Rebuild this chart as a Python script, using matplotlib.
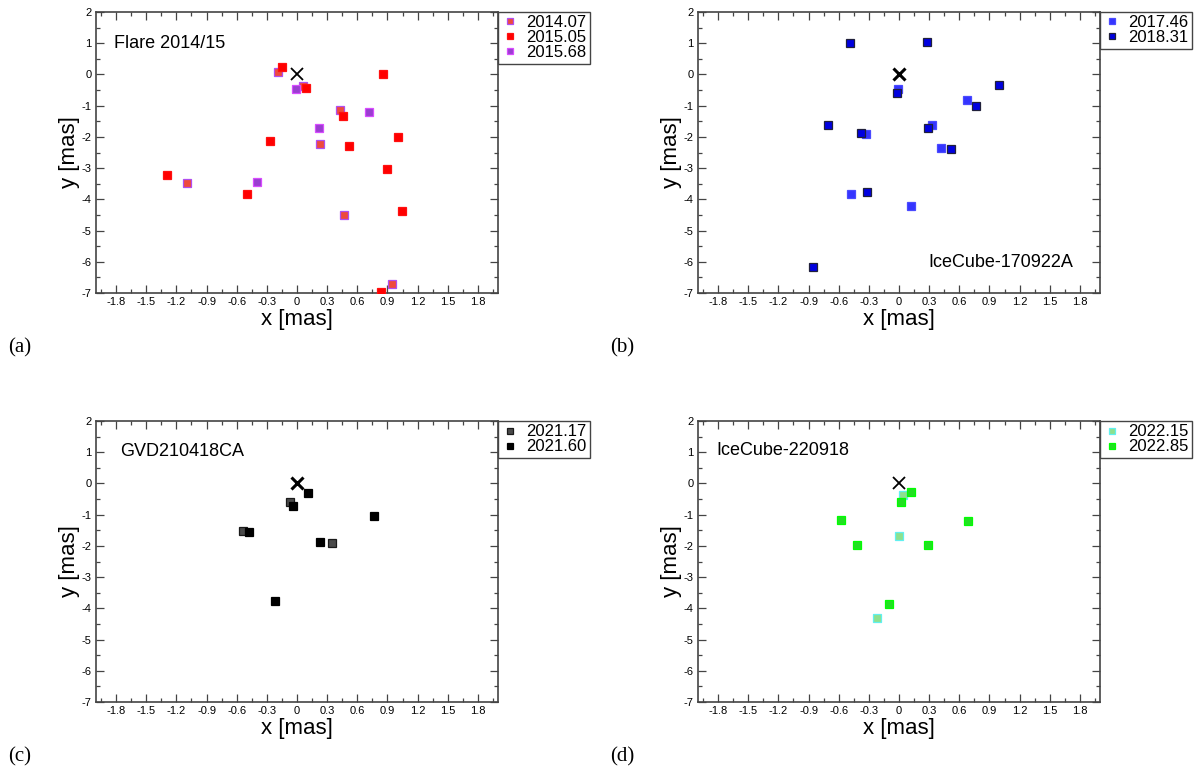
import matplotlib
matplotlib.use("Agg")
import matplotlib.pyplot as plt
from matplotlib.ticker import MultipleLocator, FuncFormatter

plt.rcParams['font.family'] = ['Liberation Sans', 'DejaVu Sans']

# ---------------- data (mas) ----------------
# Panel (a) Flare 2014/15
x_201407 = [-0.19, 0.06, 0.43, 0.23, -1.09, 0.47, 0.95]
y_201407 = [0.09, -0.37, -1.13, -2.22, -3.47, -4.51, -6.70]
x_201505 = [-0.15, 0.09, 0.855, 0.457, -0.265, 1.0, 0.517, 0.895, -1.296, -0.497, 1.047, 0.838]
y_201505 = [0.23, -0.43, 0.03, -1.34, -2.14, -2.0, -2.30, -3.04, -3.23, -3.82, -4.36, -6.96]
x_201568 = [-0.007, 0.712, 0.215, -0.394]
y_201568 = [-0.47, -1.20, -1.71, -3.45]

# Panel (b) IceCube-170922A
x_201746 = [-0.01, 0.678, 0.325, -0.329, 0.415, -0.475, 0.12]
y_201746 = [-0.48, -0.83, -1.61, -1.90, -2.36, -3.84, -4.20]
x_201831 = [-0.488, 0.279, -0.017, 0.993, 0.764, -0.707, -0.375, 0.289, 0.515, -0.322, -0.857]
y_201831 = [1.01, 1.05, -0.585, -0.33, -1.01, -1.63, -1.88, -1.73, -2.40, -3.78, -6.16]

# Panel (c) GVD210418CA
x_202117 = [-0.066, -0.537, 0.348]
y_202117 = [-0.58, -1.51, -1.91]
x_202160 = [0.106, -0.043, -0.477, 0.225, 0.765, -0.222]
y_202160 = [-0.32, -0.73, -1.56, -1.86, -1.04, -3.78]

# Panel (d) IceCube-220918
x_202215 = [0.04, 0.0, -0.219]
y_202215 = [-0.38, -1.69, -4.31]
x_202285 = [0.123, 0.02, -0.578, 0.684, -0.418, 0.292, -0.10]
y_202285 = [-0.285, -0.605, -1.16, -1.19, -1.97, -1.96, -3.87]

core_x, core_y = [0.0], [0.0]

panels = [
    dict(pos=[96, 12], title="Flare 2014/15", tpos=(-1.82, 1.0), tha='left', letter="(a)", lpos=(8, 348),
         xlw=1.3,
         series=[("2014.07", x_201407, y_201407, '#ee4a3c', '#b04ef0'),
                 ("2015.05", x_201505, y_201505, '#ff0000', '#ff1010'),
                 ("2015.68", x_201568, y_201568, '#9a3ed0', '#d84cff')]),
    dict(pos=[698, 12], title="IceCube-170922A", tpos=(1.73, -6.03), tha='right', letter="(b)", lpos=(610, 348),
         xlw=2.2,
         series=[("2017.46", x_201746, y_201746, '#3434ff', '#4a4aff'),
                 ("2018.31", x_201831, y_201831, '#0000e0', '#20203a')]),
    dict(pos=[96, 421], title="GVD210418CA", tpos=(-1.76, 1.03), tha='left', letter="(c)", lpos=(8, 757),
         xlw=2.2,
         series=[("2021.17", x_202117, y_202117, '#4a4a4a', '#1a1a1a'),
                 ("2021.60", x_202160, y_202160, '#000000', '#000000')]),
    dict(pos=[698, 421], title="IceCube-220918", tpos=(-1.82, 1.06), tha='left', letter="(d)", lpos=(610, 757),
         xlw=1.3,
         series=[("2022.15", x_202215, y_202215, '#8ee08e', '#60f0f0'),
                 ("2022.85", x_202285, y_202285, '#22e022', '#00ff00')]),
]

W, H = 1200, 774
fig = plt.figure(figsize=(W / 100, H / 100), dpi=100)

axw, axh = 402, 281
spine_c = '#444444'

def xfmt(v, p):
    if abs(v) < 1e-9:
        return "0"
    return "%.1f" % v

for P in panels:
    l, t = P['pos']
    ax = fig.add_axes([l / W, 1 - (t + axh) / H, axw / W, axh / H])
    ax.set_xlim(-2, 2)
    ax.set_ylim(-7, 2)
    ax.xaxis.set_major_locator(MultipleLocator(0.3))
    ax.xaxis.set_minor_locator(MultipleLocator(0.15))
    ax.yaxis.set_major_locator(MultipleLocator(1))
    ax.yaxis.set_minor_locator(MultipleLocator(0.5))
    ax.xaxis.set_major_formatter(FuncFormatter(xfmt))
    ax.yaxis.set_major_formatter(FuncFormatter(lambda v, p: "%d" % round(v)))
    ax.tick_params(which='both', direction='in', top=True, right=True, color=spine_c,
                   width=0.9, labelsize=8)
    ax.tick_params(which='major', length=5.5, pad=3)
    ax.tick_params(which='minor', length=2.8)
    for s in ax.spines.values():
        s.set_color(spine_c)
        s.set_linewidth(1.2)
    ax.set_xlabel("x [mas]", fontsize=16, labelpad=1)
    ax.set_ylabel("y [mas]", fontsize=16, labelpad=1)

    for lab, xs, ys, fc, ec in P['series']:
        ax.plot(xs, ys, ls='none', marker='s', ms=5.5, mfc=fc, mec=ec, mew=0.9, label=lab, zorder=3)
    ax.plot(core_x, core_y, ls='none', marker='x', ms=8.5, mew=P['xlw'], color='black', zorder=4)

    ax.text(P['tpos'][0], P['tpos'][1], P['title'], fontsize=13, ha=P['tha'], va='center')

    leg = ax.legend(loc='upper left', bbox_to_anchor=(1.0, 1.0), borderaxespad=0, fontsize=12,
                    frameon=True, fancybox=False, framealpha=1, edgecolor=spine_c,
                    borderpad=0.2, handlelength=1.0, handletextpad=0.5, labelspacing=0.0,
                    markerscale=0.9)
    leg.get_frame().set_linewidth(1.0)

    fig.text(P['lpos'][0] / W, 1 - P['lpos'][1] / H, P['letter'], fontsize=15,
             family=['Liberation Serif', 'DejaVu Serif'], ha='left', va='center')

fig.savefig("out.png", dpi=100)
